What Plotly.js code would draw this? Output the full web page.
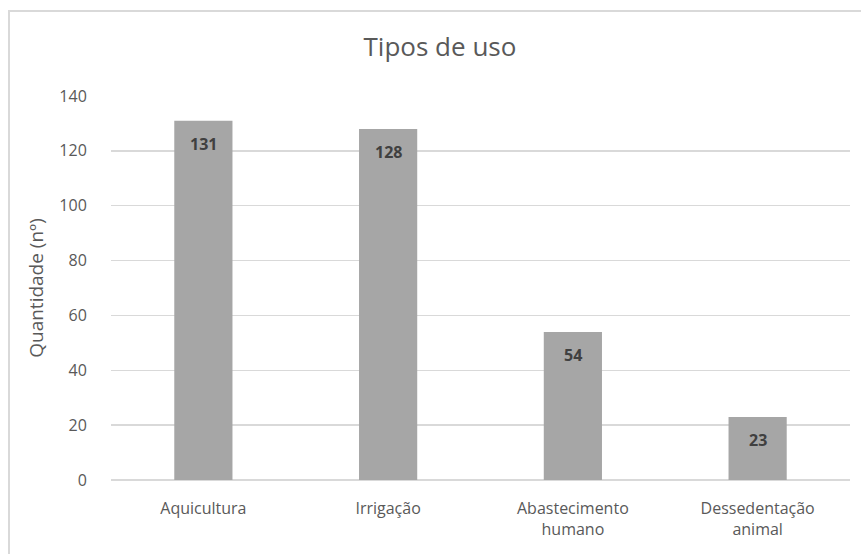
<!DOCTYPE html>
<html>
<head>
<meta charset="utf-8">
<script src="https://cdn.plot.ly/plotly-3.0.1.min.js"></script>
<style>
  html, body { margin: 0; padding: 0; background: #ffffff; }
  #wrap { position: relative; width: 861px; height: 554px; overflow: hidden; }
  #chart { position: absolute; left: 0; top: 0; width: 861px; height: 554px; }
  #frame { position: absolute; left: 8px; top: 10px; width: 900px; height: 600px;
           border-left: 2px solid #d9d9d9; border-top: 2px solid #d9d9d9; pointer-events: none; }
</style>
</head>
<body>
<div id="wrap">
  <div id="chart"></div>
  <div id="frame"></div>
</div>
<script>
const categories = ["Aquicultura", "Irrigação", "Abastecimento humano", "Dessedentação animal"];
const tickLabels = ["Aquicultura", "Irrigação", "Abastecimento<br>humano", "Dessedentação<br>animal"];
const values = [131, 128, 54, 23];
const yTicks = [0, 20, 40, 60, 80, 100, 120, 140];

const FONT = "'Open Sans', sans-serif";

const trace = {
  type: "bar",
  x: categories,
  y: values,
  marker: { color: "#a6a6a6", line: { width: 0 } },
  width: 0.315,
  hoverinfo: "none"
};

const annotations = categories.map((c, i) => ({
  x: c, y: values[i], xref: "x", yref: "y",
  text: "<b>" + values[i] + "</b>",
  showarrow: false, yanchor: "middle", yshift: -23,
  font: { family: FONT, size: 16, color: "#404040" }
}));

const layout = {
  width: 861, height: 554,
  margin: { l: 111, r: 11, t: 96, b: 74 },
  paper_bgcolor: "rgba(0,0,0,0)",
  plot_bgcolor: "#ffffff",
  title: {
    text: "Tipos de uso",
    font: { family: FONT, size: 26, color: "#595959" },
    x: 0.511, xref: "container", xanchor: "center",
    y: 0.915, yref: "container", yanchor: "middle"
  },
  xaxis: {
    type: "category",
    tickmode: "array",
    tickvals: categories,
    ticktext: tickLabels,
    showgrid: false,
    zeroline: false,
    showline: false,
    ticks: "outside",
    ticklen: 14,
    tickcolor: "rgba(0,0,0,0)",
    tickfont: { family: FONT, size: 16, color: "#595959" },
    fixedrange: true
  },
  yaxis: {
    range: [0, 140],
    tickmode: "array",
    tickvals: yTicks,
    showgrid: true,
    gridcolor: "#d9d9d9",
    gridwidth: 1.5,
    zeroline: true,
    zerolinecolor: "#d9d9d9",
    zerolinewidth: 1.5,
    showline: false,
    ticks: "outside",
    ticklen: 20,
    tickcolor: "rgba(0,0,0,0)",
    tickfont: { family: FONT, size: 16, color: "#595959" },
    title: {
      text: "Quantidade (nº)",
      font: { family: FONT, size: 19, color: "#595959" },
      standoff: 10
    },
    fixedrange: true
  },
  annotations: annotations,
  showlegend: false
};

Plotly.newPlot("chart", [trace], layout, { displayModeBar: false, staticPlot: true });
</script>
</body>
</html>
